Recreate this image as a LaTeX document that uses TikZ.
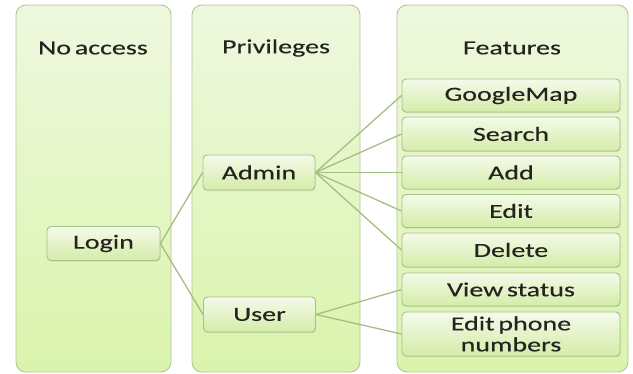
\documentclass[tikz,border=0pt]{standalone}
\usepackage{fontspec}
\setmainfont[FakeStretch=1.4, FakeBold=0.3, WordSpace=0.6]{Carlito}
\usepackage{tikz}
\usetikzlibrary{shapes,shadows,positioning}

\definecolor{PanelFill}{RGB}{238,248,222}
\definecolor{PanelLow}{RGB}{218,244,172}
\definecolor{PanelLine}{RGB}{178,196,152}
\definecolor{BoxTop}{RGB}{245,250,234}
\definecolor{BoxLow}{RGB}{212,236,168}
\definecolor{BoxLine}{RGB}{168,192,138}
\definecolor{LinkCol}{RGB}{165,190,130}
\definecolor{TextCol}{RGB}{35,35,32}

\begin{document}
\begin{tikzpicture}[x=1pt, y=-1pt, font=\fontsize{20}{21}\selectfont]
			\tikzstyle{Panel}	= [rectangle, rounded corners=10pt, draw=PanelLine, line width=0.9pt, top color=PanelFill, bottom color=PanelLow, minimum height=367pt, inner sep=0pt]
			\tikzstyle{Title}	= [text=TextCol, inner sep=0pt]
			\tikzstyle{Box}		= [rectangle, rounded corners=4pt, draw=BoxLine, line width=0.9pt, top color=BoxTop, bottom color=BoxLow, text=TextCol, inner sep=0pt, align=center, drop shadow={opacity=0.2, shadow xshift=0.6pt, shadow yshift=-1.2pt}]
			\tikzstyle{Side}	= [Box, minimum width=112pt, minimum height=34pt]
			\tikzstyle{Feat}	= [Box, minimum width=218pt, minimum height=33pt]
			\tikzstyle{Link}	= [LinkCol, line width=1.3pt]

			\useasboundingbox (0, 0) rectangle (633, 373);

			% three panels
			\node (pNone) at (93.5, 188.5) [Panel, minimum width=155pt] {};
			\node (pPriv) at (276, 188.5) [Panel, minimum width=168pt] {};
			\node (pFeat) at (512.5, 188.5) [Panel, minimum width=231pt] {};

			\node (tNone) at (93, 48) [Title] {No access};
			\node (tPriv) at (276, 48) [Title] {Privileges};
			\node (tFeat) at (512, 48) [Title] {Features};

			\node (login) at (103.5, 243.5) [Side, minimum width=113pt] {Login};
			\node (admin) at (259, 172.5) [Side, minimum height=35pt] {Admin};
			\node (user) at (259.5, 314.5) [Side, minimum height=35pt] {User};

			\node (gmap) at (511, 95.5) [Feat] {GoogleMap};
			\node (search) at (511, 134) [Feat, minimum height=34pt] {Search};
			\node (add) at (511, 172.5) [Feat] {Add};
			\node (edit) at (511, 211) [Feat] {Edit};
			\node (delete) at (511, 250) [Feat, minimum height=34pt] {Delete};
			\node (status) at (511, 289.5) [Feat] {View status};
			\node (phone) at (511, 334) [Feat, minimum height=44pt] {Edit phone\\numbers};

			\draw [-] (login.east) to (admin.west) [Link];
			\draw [-] (login.east) to (user.west) [Link];

			\draw [-] (admin.east) to (gmap.west) [Link];
			\draw [-] (admin.east) to (search.west) [Link];
			\draw [-] (admin.east) to (add.west) [Link];
			\draw [-] (admin.east) to (edit.west) [Link];
			\draw [-] (admin.east) to (delete.west) [Link];

			\draw [-] (user.east) to (status.west) [Link];
			\draw [-] (user.east) to (phone.west) [Link];
		\end{tikzpicture}
\end{document}
